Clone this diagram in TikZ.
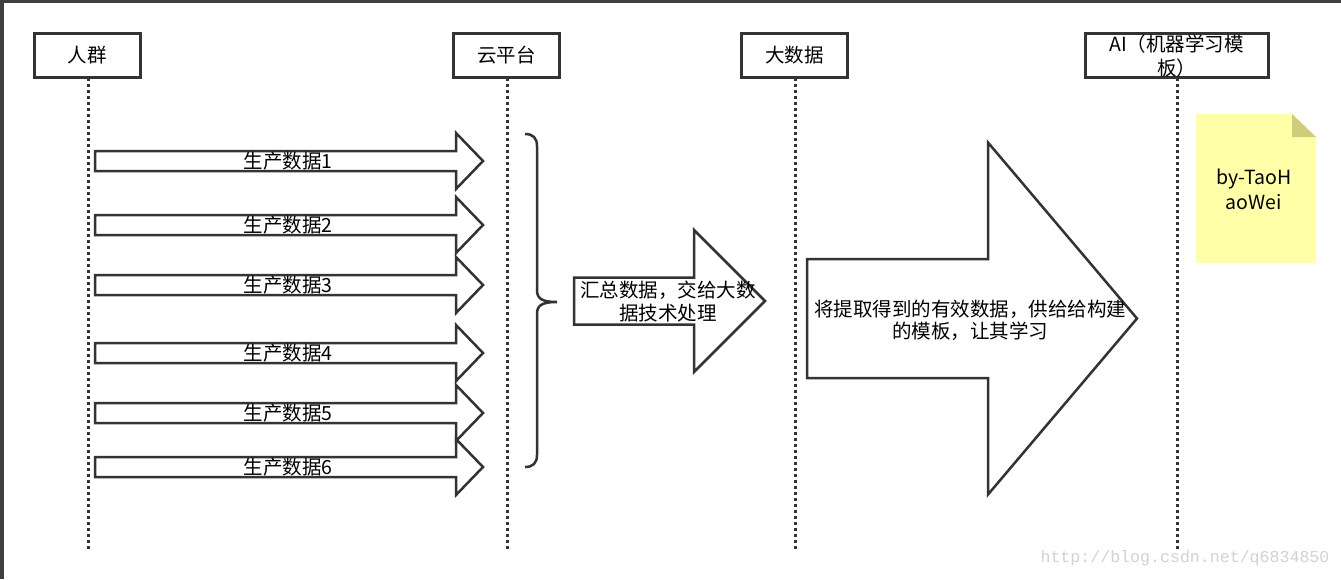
\documentclass[tikz,border=0pt]{standalone}
\usepackage{fontspec}
\setmainfont{Noto Sans CJK SC}
\newfontfamily\wmfont{Liberation Mono}
\definecolor{ln}{HTML}{333333}
\definecolor{frame}{HTML}{3C4043}
\definecolor{notey}{HTML}{FFFFA8}
\definecolor{notef}{HTML}{CDCD7A}
\definecolor{wm}{HTML}{D2D2D2}
\newcommand\myblockarrow[6]{% x0, xbase, xtip, yc, bodyhalf, headhalf
  \draw[blk] (#1,#4-#5) -- (#2,#4-#5) -- (#2,#4-#6) -- (#3,#4) -- (#2,#4+#6) -- (#2,#4+#5) -- (#1,#4+#5) -- cycle;}
\begin{document}
\begin{tikzpicture}[x=1pt,y=-1pt,
  head/.style={draw=ln,line width=3pt,fill=white,minimum width=#1,minimum height=44pt,inner sep=0pt,font=\fontsize{19.5}{24}\selectfont,align=center},
  head/.default=106pt,
  life/.style={draw=ln,line width=3pt,dash pattern=on 3pt off 3pt},
  blk/.style={draw=ln,line width=2.5pt,fill=white,line join=miter},
  lbl/.style={font=\fontsize{19.5}{23}\selectfont,inner sep=0pt,align=center}]
\useasboundingbox (0,0) rectangle (1341,579);
\fill[white] (0,0) rectangle (1341,579);
\fill[frame] (0,0) rectangle (1341,2.5);
\fill[frame] (0,0) rectangle (4.3,579);
% lifelines
\coordinate (l1b) at (88,550);
\coordinate (l2b) at (507,550);
\coordinate (l3b) at (795,550);
\coordinate (l4b) at (1177,550);
\draw[life] (88,78) -- (l1b);
\draw[life] (507,78) -- (l2b);
\draw[life] (795,78) -- (l3b);
\draw[life] (1177,78) -- (l4b);
% heads
\node[head] (h1) at (87,55) {人群};
\node[head] (h2) at (506.5,55) {云平台};
\node[head] (h3) at (794.5,55) {大数据};
\node[head=183pt] (h4) at (1176.5,55) {};
\node[lbl,font=\fontsize{19.5}{24}\selectfont] (h4t) at (1176.5,56) {AI（机器学习模\\板）};
% data arrows
\foreach \yc/\n in {161/1,225/2,285/3,353/4,413/5,467/6}{
  \myblockarrow{95}{456}{483}{\yc}{10}{28}
  \node[lbl] (d\n) at (288,\yc) {生产数据\n};
}
% brace
\draw[ln,line width=2.5pt] (525,134) .. controls (533,134) and (537,138) .. (537,146)
  -- (537,290) .. controls (537,298) and (541,302) .. (557,302)
  .. controls (541,302) and (537,306) .. (537,314)
  -- (537,455) .. controls (537,463) and (533,467) .. (525,467);
\coordinate (brace) at (557,302);
% middle arrow
\myblockarrow{574}{694}{765}{301}{23.5}{71}
\node[lbl] (m) at (668,302) {汇总数据，交给大数\\据技术处理};
% big arrow
\myblockarrow{807}{988}{1137}{318.5}{59.5}{176}
\node[lbl,font=\fontsize{19.5}{22}\selectfont] (b) at (970,320) {将提取得到的有效数据，供给给构建\\的模板，让其学习};
% note
\fill[notey] (1196,114) -- (1292,114) -- (1316,137) -- (1316,263) -- (1196,263) -- cycle;
\fill[notef] (1292,114) -- (1316,137) -- (1292,137) -- cycle;
\node[lbl,font=\fontsize{19.5}{25}\selectfont] (note) at (1254,189) {by-TaoH\\aoWei};
% watermark
\node[font=\wmfont\fontsize{16.6}{17}\selectfont,text=wm,inner sep=0pt] (wm) at (1185,558) {http://blog.csdn.net/q6834850};
\end{tikzpicture}
\end{document}
